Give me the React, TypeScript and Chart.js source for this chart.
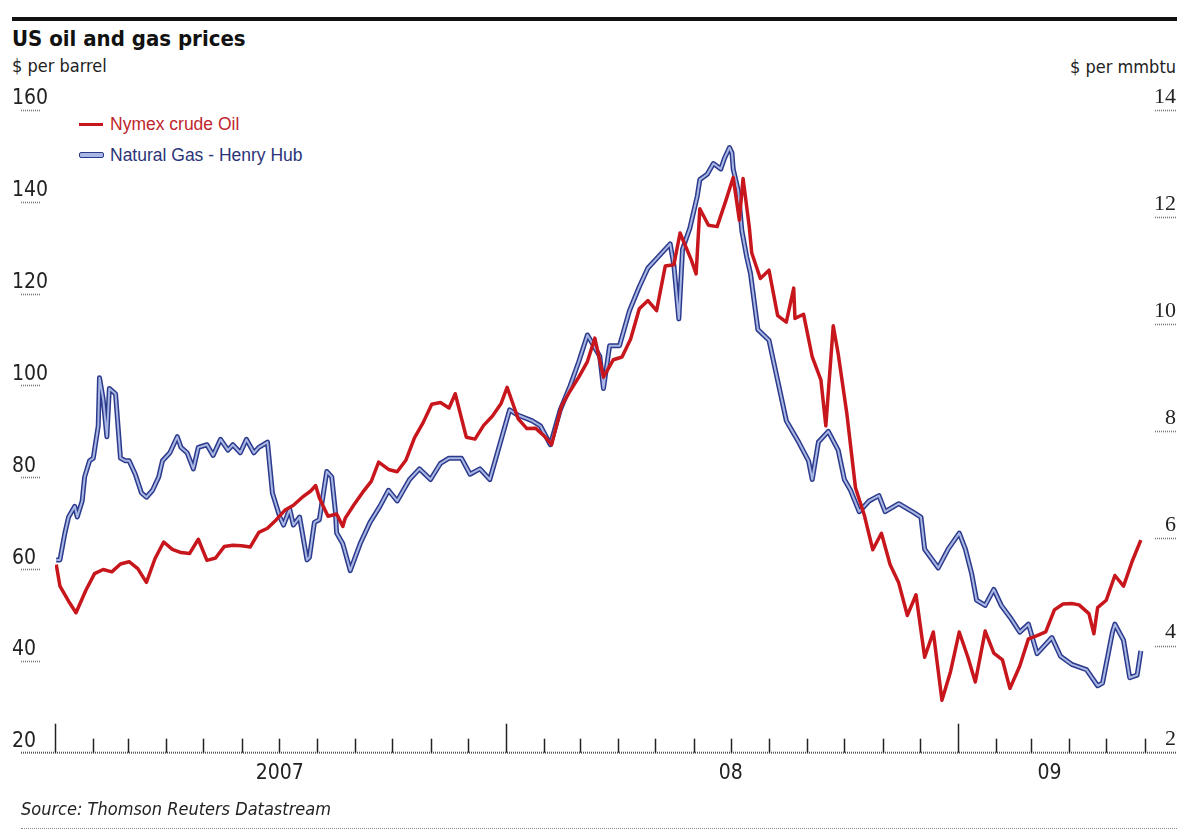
import React, { useEffect, useRef } from "react";
import { Chart, registerables } from "chart.js";

Chart.register(...registerables);

// ---------- data ----------
const oilDates = [
  "2007-01-02","2007-01-05","2007-01-12","2007-01-18","2007-01-26","2007-02-02","2007-02-09","2007-02-16","2007-02-23",
  "2007-03-02","2007-03-09","2007-03-16","2007-03-23","2007-03-30","2007-04-06","2007-04-13","2007-04-20","2007-04-27",
  "2007-05-04","2007-05-11","2007-05-18","2007-05-25","2007-06-01","2007-06-08","2007-06-15","2007-06-22","2007-06-29",
  "2007-07-06","2007-07-13","2007-07-20","2007-07-27","2007-07-31","2007-08-03","2007-08-10","2007-08-17","2007-08-22",
  "2007-08-24","2007-08-31","2007-09-07","2007-09-14","2007-09-20","2007-09-28","2007-10-05","2007-10-12","2007-10-19",
  "2007-10-26","2007-11-02","2007-11-09","2007-11-16","2007-11-21","2007-11-30","2007-12-07","2007-12-14","2007-12-21",
  "2007-12-28","2008-01-02","2008-01-11","2008-01-18","2008-01-25","2008-02-01","2008-02-07","2008-02-15","2008-02-22",
  "2008-02-29","2008-03-07","2008-03-13","2008-03-20","2008-03-28","2008-04-04","2008-04-11","2008-04-18","2008-04-25",
  "2008-05-02","2008-05-09","2008-05-16","2008-05-21","2008-05-30","2008-06-03","2008-06-06","2008-06-13","2008-06-20",
  "2008-06-27","2008-07-03","2008-07-08","2008-07-11","2008-07-16","2008-07-18","2008-07-25","2008-08-01","2008-08-08",
  "2008-08-15","2008-08-21","2008-08-22","2008-08-29","2008-09-05","2008-09-12","2008-09-16","2008-09-22","2008-09-26",
  "2008-10-03","2008-10-10","2008-10-17","2008-10-24","2008-10-31","2008-11-07","2008-11-14","2008-11-21","2008-11-28",
  "2008-12-05","2008-12-12","2008-12-19","2008-12-26","2009-01-02","2009-01-09","2009-01-15","2009-01-23","2009-01-30",
  "2009-02-06","2009-02-12","2009-02-20","2009-02-27","2009-03-06","2009-03-13","2009-03-20","2009-03-27","2009-04-03",
  "2009-04-09","2009-04-17","2009-04-21","2009-04-24","2009-05-01","2009-05-08","2009-05-15","2009-05-22","2009-05-29",
];
const oilPrices = [
  61.0, 56.3, 53.0, 50.5, 55.4, 59.0, 59.9, 59.4, 61.1,
  61.6, 60.1, 57.1, 62.3, 65.9, 64.3, 63.6, 63.4, 66.5,
  61.9, 62.4, 64.9, 65.2, 65.1, 64.8, 68.0, 68.9, 70.7,
  72.8, 73.9, 75.6, 77.0, 78.2, 75.5, 71.5, 72.0, 69.3,
  71.1, 74.0, 76.7, 79.1, 83.3, 81.7, 81.2, 83.7, 88.6,
  91.9, 95.9, 96.3, 95.1, 98.2, 88.7, 88.3, 91.3, 93.3,
  96.0, 99.6, 92.7, 90.6, 90.7, 89.0, 87.1, 95.5, 98.8,
  101.8, 105.2, 110.3, 101.8, 105.6, 106.2, 110.1, 116.7, 118.5,
  116.3, 126.0, 126.3, 133.2, 127.4, 124.3, 138.5, 134.9, 134.6,
  140.2, 145.3, 136.0, 145.1, 134.6, 128.9, 123.3, 125.1, 115.2,
  113.8, 121.2, 114.6, 115.5, 106.2, 101.2, 91.2, 113.0, 106.9,
  93.9, 77.7, 71.9, 64.2, 67.8, 61.0, 57.0, 49.9, 54.4,
  40.8, 46.3, 31.4, 37.7, 46.3, 40.8, 35.4, 46.5, 41.7,
  40.2, 34.0, 38.9, 44.8, 45.5, 46.3, 51.1, 52.4, 52.5,
  52.2, 50.3, 45.9, 51.6, 53.2, 58.6, 56.3, 61.7, 66.3,
];

const gasDates = [
  "2007-01-02","2007-01-05","2007-01-09","2007-01-12","2007-01-17","2007-01-19","2007-01-23","2007-01-25","2007-01-29",
  "2007-02-01","2007-02-05","2007-02-06","2007-02-09","2007-02-12","2007-02-14","2007-02-19","2007-02-21","2007-02-23",
  "2007-02-27","2007-03-02","2007-03-07","2007-03-12","2007-03-16","2007-03-21","2007-03-26","2007-03-29","2007-04-04",
  "2007-04-10","2007-04-13","2007-04-18","2007-04-23","2007-04-27","2007-05-04","2007-05-09","2007-05-15","2007-05-21",
  "2007-05-25","2007-05-31","2007-06-05","2007-06-11","2007-06-15","2007-06-22","2007-06-26","2007-07-02","2007-07-05",
  "2007-07-10","2007-07-13","2007-07-18","2007-07-24","2007-07-26","2007-07-30","2007-08-03","2007-08-09","2007-08-13",
  "2007-08-16","2007-08-17","2007-08-22","2007-08-28","2007-09-05","2007-09-13","2007-09-21","2007-09-28","2007-10-05",
  "2007-10-15","2007-10-23","2007-11-01","2007-11-09","2007-11-16","2007-11-26","2007-12-03","2007-12-11","2007-12-19",
  "2007-12-27","2008-01-04","2008-01-11","2008-01-22","2008-01-29","2008-02-06","2008-02-14","2008-02-22","2008-02-29",
  "2008-03-07","2008-03-17","2008-03-20","2008-03-25","2008-04-02","2008-04-10","2008-04-18","2008-04-25","2008-05-05",
  "2008-05-13","2008-05-16","2008-05-20","2008-05-23","2008-05-29","2008-06-04","2008-06-06","2008-06-12","2008-06-17",
  "2008-06-23","2008-06-26","2008-06-30","2008-07-02","2008-07-03","2008-07-07","2008-07-10","2008-07-14","2008-07-17",
  "2008-07-21","2008-07-23","2008-08-01","2008-08-08","2008-08-15","2008-08-25","2008-09-02","2008-09-05","2008-09-10",
  "2008-09-18","2008-09-26","2008-10-01","2008-10-06","2008-10-13","2008-10-21","2008-10-29","2008-11-03","2008-11-14",
  "2008-11-25","2008-12-02","2008-12-05","2008-12-16","2008-12-24","2009-01-02","2009-01-07","2009-01-12","2009-01-16",
  "2009-01-23","2009-01-30","2009-02-05","2009-02-13","2009-02-20","2009-02-27","2009-03-06","2009-03-18","2009-03-25",
  "2009-04-03","2009-04-15","2009-04-24","2009-04-28","2009-05-06","2009-05-08","2009-05-15","2009-05-20","2009-05-26",
  "2009-05-29",
];
const gasPrices = [
  5.6, 5.6, 6.1, 6.4, 6.6, 6.4, 6.7, 7.15, 7.45,
  7.5, 8.1, 9.0, 8.6, 7.9, 8.8, 8.7, 8.1, 7.5,
  7.45, 7.45, 7.2, 6.85, 6.77, 6.9, 7.15, 7.45, 7.6,
  7.9, 7.7, 7.6, 7.3, 7.7, 7.75, 7.55, 7.85, 7.65,
  7.75, 7.6, 7.85, 7.6, 7.7, 7.8, 6.85, 6.4, 6.25,
  6.55, 6.25, 6.4, 5.6, 5.65, 6.3, 6.35, 7.25, 7.15,
  6.5, 6.1, 5.9, 5.4, 5.9, 6.3, 6.6, 6.9, 6.7,
  7.1, 7.3, 7.1, 7.4, 7.5, 7.5, 7.2, 7.3, 7.1,
  7.75, 8.4, 8.3, 8.2, 8.1, 7.75, 8.4, 8.85, 9.3,
  9.8, 9.4, 8.8, 9.6, 9.6, 10.25, 10.7, 11.05, 11.3,
  11.5, 11.1, 10.1, 11.4, 11.8, 12.4, 12.7, 12.8, 13.0,
  12.9, 13.1, 13.3, 13.2, 12.9, 12.5, 11.75, 11.25, 10.95,
  10.25, 9.9, 9.7, 8.95, 8.2, 7.8, 7.45, 7.1, 7.8,
  8.0, 7.65, 7.1, 6.9, 6.5, 6.7, 6.8, 6.5, 6.65,
  6.5, 6.4, 5.8, 5.45, 5.8, 6.1, 5.8, 5.35, 4.85,
  4.75, 5.05, 4.75, 4.5, 4.25, 4.4, 3.85, 4.15, 3.8,
  3.65, 3.55, 3.25, 3.3, 4.25, 4.4, 4.1, 3.4, 3.45,
  3.9,
];

const yearLabels = ["2007", "08", "09"];
const yearLabelDates = ["2007-07-02", "2008-07-01", "2009-03-16"];
const yearStarts = ["2007-01-01", "2008-01-01", "2009-01-01"];
const monthTickDates: string[] = [];
for (let y = 2007; y <= 2009; y++) {
  for (let m = 1; m <= 12; m++) {
    if (y === 2009 && m > 6) break;
    monthTickDates.push(`${y}-${String(m).padStart(2, "0")}-01`);
  }
}

// ---------- helpers ----------
const START = Date.UTC(2007, 0, 1);
const dayOf = (s: string) => {
  const [y, m, d] = s.split("-").map(Number);
  return (Date.UTC(y, m - 1, d) - START) / 86400000;
};

const NARROW = "'Liberation Sans Narrow', 'DejaVu Sans Condensed', sans-serif";
const SERIF = "'Liberation Serif', 'DejaVu Serif', serif";
const RED = "#c8161d";
const NAVY = "#2c3a8c";
const LIGHT_BLUE = "#a9b7e4";

const decorPlugin = {
  id: "decor",
  afterDraw(chart: any) {
    const ctx = chart.ctx as CanvasRenderingContext2D;
    const xs = chart.scales.x;
    const yl = chart.scales.yOil;
    const yr = chart.scales.yGas;
    const base = yl.getPixelForValue(20);
    ctx.save();
    // baseline
    ctx.strokeStyle = "#555";
    ctx.lineWidth = 2;
    ctx.setLineDash([1, 1]);
    ctx.beginPath();
    ctx.moveTo(yl.left + 9, base);
    ctx.lineTo(yr.right + 1, base);
    ctx.stroke();
    // underlines below axis labels
    ctx.strokeStyle = "#777";
    ctx.lineWidth = 1.6;
    yl.ticks.forEach((t: any) => {
      if (t.value <= 20) return;
      const py = Math.round(yl.getPixelForValue(t.value)) + 0.5;
      ctx.beginPath();
      ctx.moveTo(yl.left + 9, py);
      ctx.lineTo(yl.left + 29, py);
      ctx.stroke();
    });
    yr.ticks.forEach((t: any) => {
      if (t.value <= 2) return;
      const py = Math.round(yr.getPixelForValue(t.value)) + 0.5;
      ctx.beginPath();
      ctx.moveTo(yr.right - 21, py);
      ctx.lineTo(yr.right, py);
      ctx.stroke();
    });
    // month ticks pointing up
    ctx.setLineDash([]);
    ctx.strokeStyle = "#222";
    ctx.lineWidth = 1.5;
    monthTickDates.forEach((s) => {
      const px = Math.round(xs.getPixelForValue(dayOf(s))) + 0.5;
      const h = yearStarts.includes(s) ? 29 : 14;
      ctx.beginPath();
      ctx.moveTo(px, base);
      ctx.lineTo(px, base - h);
      ctx.stroke();
    });
    ctx.restore();
  },
};

export default function App() {
  const canvasRef = useRef<HTMLCanvasElement>(null);

  useEffect(() => {
    const oilData = oilDates.map((d, i) => ({ x: dayOf(d), y: oilPrices[i] }));
    const gasData = gasDates.map((d, i) => ({ x: dayOf(d), y: gasPrices[i] }));
    const chart = new Chart(canvasRef.current as HTMLCanvasElement, {
      type: "line",
      data: {
        datasets: [
          {
            label: "Nymex crude Oil",
            data: oilData,
            yAxisID: "yOil",
            borderColor: RED,
            borderWidth: 3.5,
            pointRadius: 0,
            tension: 0,
            borderJoinStyle: "round",
            order: 0,
          },
          {
            label: "Natural Gas-Henry Hub",
            data: gasData,
            yAxisID: "yGas",
            borderColor: LIGHT_BLUE,
            borderWidth: 2,
            pointRadius: 0,
            tension: 0,
            borderJoinStyle: "round",
            order: 1,
          },
          {
            label: "Natural Gas-Henry Hub outline",
            data: gasData,
            yAxisID: "yGas",
            borderColor: NAVY,
            borderWidth: 5,
            pointRadius: 0,
            tension: 0,
            borderJoinStyle: "round",
            order: 2,
          },
        ],
      },
      options: {
        responsive: false,
        animation: false,
        events: [],
        layout: { padding: { left: 12, right: 24, top: 110, bottom: 37.3 } },
        plugins: { legend: { display: false }, tooltip: { enabled: false }, title: { display: false } },
        scales: {
          x: {
            type: "linear",
            min: 0,
            max: 884.8,
            grid: { display: false, drawTicks: false },
            border: { display: false },
            afterBuildTicks: (scale: any) => {
              scale.ticks = yearLabelDates.map((d) => ({ value: dayOf(d) }));
            },
            afterFit: (scale: any) => {
              scale.height = 50;
            },
            ticks: {
              autoSkip: false,
              maxRotation: 0,
              padding: 8,
              color: "#222",
              font: { family: NARROW, size: 21 },
              callback: (_v: any, i: number) => yearLabels[i],
            },
          },
          yOil: {
            type: "linear",
            position: "left",
            min: 20,
            max: 160,
            grid: { display: false, drawTicks: false },
            border: { display: false },
            afterFit: (scale: any) => {
              scale.width = 43;
            },
            ticks: {
              stepSize: 20,
              crossAlign: "far",
              labelOffset: -11,
              color: "#222",
              font: { family: NARROW, size: 21 },
            },
          },
          yGas: {
            type: "linear",
            position: "right",
            min: 2,
            max: 14,
            grid: { display: false, drawTicks: false },
            border: { display: false },
            afterFit: (scale: any) => {
              scale.width = 28;
            },
            ticks: {
              stepSize: 2,
              crossAlign: "far",
              labelOffset: -13,
              color: "#222",
              font: { family: SERIF, size: 22 },
            },
          },
        },
      },
      plugins: [decorPlugin],
    } as any);
    return () => chart.destroy();
  }, []);

  const abs: React.CSSProperties = { position: "absolute", lineHeight: 1, whiteSpace: "nowrap" };

  return (
    <div style={{ position: "absolute", left: 0, top: 0, width: 1200, height: 840, background: "#fff", overflow: "hidden" }}>
      <div style={{ ...abs, left: 12, top: 17, width: 1165, height: 4, background: "#111" }} />
      <div style={{ ...abs, left: 12, top: 28, fontFamily: NARROW, fontWeight: 700, fontSize: 22, color: "#111" }}>
        US oil and gas prices
      </div>
      <div style={{ ...abs, left: 12, top: 57, fontFamily: NARROW, fontSize: 18, color: "#222" }}>$ per barrel</div>
      <div style={{ ...abs, right: 24, top: 58, fontFamily: NARROW, fontSize: 18, color: "#222", textAlign: "right" }}>
        $ per mmbtu
      </div>

      {/* legend */}
      <div style={{ ...abs, left: 79, top: 123, width: 24, height: 3, background: RED }} />
      <div style={{ ...abs, left: 110, top: 116, fontFamily: "'Liberation Sans', Arial, sans-serif", fontSize: 17.5, color: "#c0262c" }}>
        Nymex crude Oil
      </div>
      <div
        style={{
          ...abs,
          left: 79,
          top: 152,
          width: 25,
          height: 6,
          boxSizing: "border-box",
          background: LIGHT_BLUE,
          border: `1.5px solid ${NAVY}`,
          borderRadius: 2,
        }}
      />
      <div style={{ ...abs, left: 110, top: 147, fontFamily: "'Liberation Sans', Arial, sans-serif", fontSize: 17.5, color: "#2b3479" }}>
        Natural Gas - Henry Hub
      </div>

      <canvas ref={canvasRef} width={1200} height={840} style={{ position: "absolute", left: 0, top: 0 }} />

      <div style={{ ...abs, left: 21, top: 800, fontFamily: NARROW, fontStyle: "italic", fontSize: 18, color: "#222" }}>
        Source: Thomson Reuters Datastream
      </div>
      <div style={{ ...abs, left: 21, top: 828, width: 1156, height: 0, borderTop: "1px dotted #888" }} />
    </div>
  );
}
